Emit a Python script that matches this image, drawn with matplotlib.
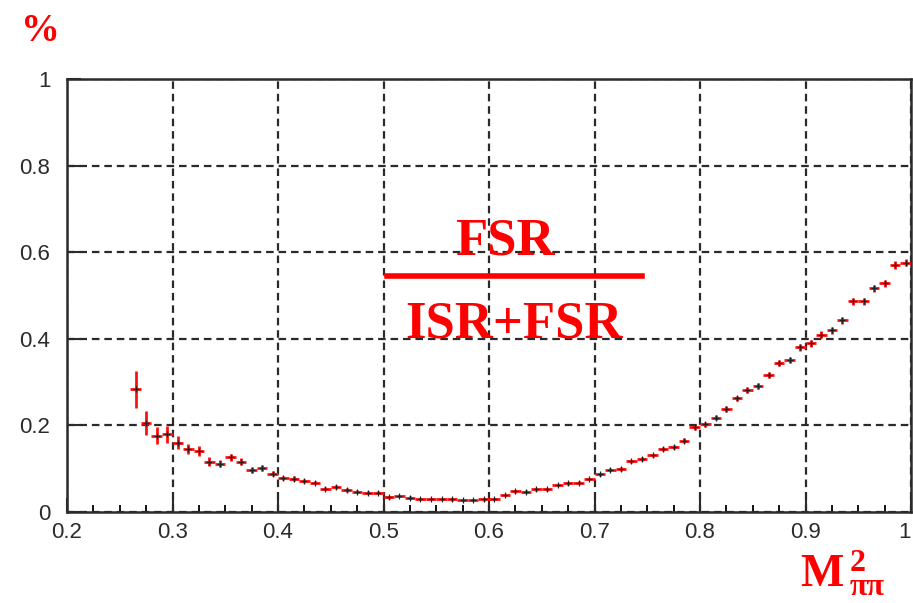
import numpy as np
import matplotlib
matplotlib.use("Agg")
import matplotlib.pyplot as plt

# FSR / (ISR+FSR) fraction versus M^2(pi pi), one entry per 0.01 bin
bin_width = 0.01
m2_centers = [0.265, 0.275, 0.285, 0.295, 0.305, 0.315, 0.325, 0.335, 0.345, 0.355,
              0.365, 0.375, 0.385, 0.395, 0.405, 0.415, 0.425, 0.435, 0.445, 0.455,
              0.465, 0.475, 0.485, 0.495, 0.505, 0.515, 0.525, 0.535, 0.545, 0.555,
              0.565, 0.575, 0.585, 0.595, 0.605, 0.615, 0.625, 0.635, 0.645, 0.655,
              0.665, 0.675, 0.685, 0.695, 0.705, 0.715, 0.725, 0.735, 0.745, 0.755,
              0.765, 0.775, 0.785, 0.795, 0.805, 0.815, 0.825, 0.835, 0.845, 0.855,
              0.865, 0.875, 0.885, 0.895, 0.905, 0.915, 0.925, 0.935, 0.945, 0.955,
              0.965, 0.975, 0.985, 0.995]
fsr_fraction = [0.283, 0.205, 0.176, 0.179, 0.160, 0.145, 0.141, 0.116, 0.112, 0.126,
                0.116, 0.097, 0.101, 0.088, 0.078, 0.077, 0.072, 0.068, 0.054, 0.058,
                0.051, 0.047, 0.045, 0.045, 0.034, 0.037, 0.033, 0.030, 0.030, 0.030,
                0.029, 0.028, 0.028, 0.029, 0.030, 0.039, 0.048, 0.047, 0.052, 0.052,
                0.062, 0.066, 0.068, 0.076, 0.087, 0.098, 0.099, 0.117, 0.122, 0.131,
                0.145, 0.150, 0.165, 0.196, 0.203, 0.218, 0.238, 0.263, 0.282, 0.291,
                0.316, 0.345, 0.352, 0.380, 0.390, 0.409, 0.420, 0.443, 0.487, 0.487,
                0.517, 0.528, 0.570, 0.576]
fsr_error = [0.043, 0.028, 0.020, 0.020, 0.015, 0.012, 0.012, 0.010, 0.008, 0.009,
             0.008, 0.008, 0.007, 0.006, 0.005, 0.005, 0.005, 0.004, 0.004, 0.004,
             0.004, 0.003, 0.003, 0.003, 0.003, 0.003, 0.003, 0.003, 0.003, 0.003,
             0.003, 0.003, 0.003, 0.003, 0.003, 0.003, 0.003, 0.003, 0.003, 0.003,
             0.003, 0.003, 0.003, 0.003, 0.004, 0.004, 0.004, 0.004, 0.004, 0.004,
             0.004, 0.004, 0.005, 0.006, 0.006, 0.006, 0.006, 0.006, 0.007, 0.007,
             0.007, 0.007, 0.007, 0.008, 0.008, 0.008, 0.008, 0.008, 0.008, 0.008,
             0.008, 0.008, 0.009, 0.009]

x_ticks = [0.2, 0.3, 0.4, 0.5, 0.6, 0.7, 0.8, 0.9, 1.0]
x_tick_labels = ["0.2", "0.3", "0.4", "0.5", "0.6", "0.7", "0.8", "0.9", "1"]
y_ticks = [0, 0.2, 0.4, 0.6, 0.8, 1.0]
y_tick_labels = ["0", "0.2", "0.4", "0.6", "0.8", "1"]

W, H = 913, 603
fig = plt.figure(figsize=(W / 100, H / 100), dpi=100)
ax = fig.add_axes([67 / W, 1 - 512 / H, (911 - 67) / W, (512 - 79) / H])

ax.set_xlim(0.2, 1.0)
ax.set_ylim(0.0, 1.0)

# dashed grid at the major ticks
ax.set_axisbelow(True)
ax.grid(True, which="major", color="#2a2a2a", linewidth=1.6,
        linestyle=(0, (3.4, 2.2)))

ax.errorbar(m2_centers, fsr_fraction,
            xerr=bin_width / 2, yerr=fsr_error,
            fmt="none", ecolor="#ff1010", elinewidth=2.0, capsize=0, zorder=3)
ax.plot(m2_centers, fsr_fraction, linestyle="none", marker="+",
        color="#202020", markersize=4, markeredgewidth=0.9, zorder=4)

ax.set_xticks(x_ticks)
ax.set_xticklabels(x_tick_labels)
ax.set_yticks(y_ticks)
ax.set_yticklabels(y_tick_labels)
ax.set_xticks(np.arange(0.2, 1.0001, 0.025), minor=True)

label_family = ["Liberation Sans", "DejaVu Sans"]
for lab in ax.get_xticklabels() + ax.get_yticklabels():
    lab.set_fontfamily(label_family)
    lab.set_fontsize(16)
    lab.set_color("#2b2b2b")
# keep the last x label inside the figure
ax.get_xticklabels()[-1].set_horizontalalignment("right")

ax.tick_params(axis="x", which="major", direction="in", length=10, width=1.5,
               pad=7, colors="#2b2b2b", top=False)
ax.tick_params(axis="x", which="minor", direction="in", length=5, width=1.3,
               top=False)
ax.tick_params(axis="y", which="major", direction="in", length=10, width=1.5,
               pad=12, colors="#2b2b2b", right=False)
for sp in ax.spines.values():
    sp.set_linewidth(1.8)
    sp.set_color("#2b2b2b")

red = "#ff0000"
serif = ["Liberation Serif", "DejaVu Serif"]

# unit label above the y axis
fig.text(21 / W, 1 - 41 / H, "%", color=red, fontsize=28, fontweight="bold",
         family=serif, ha="left", va="baseline")

# x axis title: M, with the exponent 2 stacked over the pi-pi subscript
fig.text(800 / W, 1 - 586 / H, "M", color=red, fontsize=33, fontweight="bold",
         family=serif, ha="left", va="baseline")
fig.text(850 / W, 1 - 549 / H, "2\nππ", color=red, fontsize=23, fontweight="bold",
         family=serif, ha="left", va="top", linespacing=0.76)

# FSR / (ISR+FSR) fraction drawn in the plot
fig.text(505 / W, 1 - 254 / H, "FSR", color=red, fontsize=38, fontweight="bold",
         family=serif, ha="center", va="baseline")
fig.add_artist(plt.Line2D([387 / W, 642 / W], [1 - 276 / H, 1 - 276 / H],
                          color=red, linewidth=4, transform=fig.transFigure))
fig.text(514 / W, 1 - 337 / H, "ISR+FSR", color=red, fontsize=38, fontweight="bold",
         family=serif, ha="center", va="baseline")

fig.savefig("out.png", dpi=100)
